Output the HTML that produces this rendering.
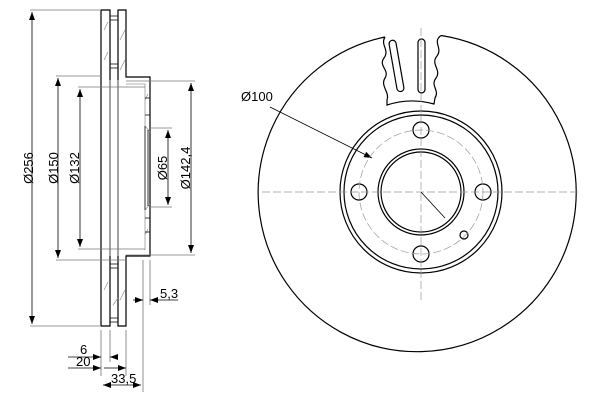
<!DOCTYPE html>
<html><head><style>html,body{margin:0;padding:0;background:#fff}svg{display:block}</style></head>
<body>
<svg width="600" height="400" viewBox="0 0 600 400" xmlns="http://www.w3.org/2000/svg" font-family="Liberation Sans, sans-serif" font-size="13">
<defs>
<marker id="a" markerWidth="8" markerHeight="6" refX="8" refY="3" orient="auto-start-reverse" markerUnits="userSpaceOnUse"><path d="M0,0 L8,3 L0,6 Z" fill="#000"/></marker>
</defs>
<g fill="none" stroke="#000" stroke-width="1.2">
<path d="M101,10 V326 M101,10 H110 V326 H101"/>
<path d="M118,10 H126 V77 H150 V256 H126 V326 H118 Z"/>
<path d="M110,16 H118 M110,20 H118 M110,64 H118 M110,68 H118 M110,264 H118 M110,268 H118 M110,318 H118 M110,322 H118" stroke-width="0.8"/>
</g>
<g fill="none" stroke="#999" stroke-width="0.8">
<path d="M104,30 L108,22 M104,60 L108,52 M120,40 L125,30 M120,70 L125,60 M104,290 L108,282 M120,300 L125,290 M113,305 L118,298 M145,100 L148,94 M145,235 L148,229"/>
<path d="M110,80 V256 M118,80 V256 M126,84 H145 V126 L150,132 M145,250 V210 L150,204"/>
<path d="M145,126 V210 M148,130 V206" stroke="#000"/>
<path d="M145,98 H150 M145,115 H150 M145,218 H150 M145,232 H150" stroke="#000"/>
</g>
<g stroke="#777" stroke-width="0.8" fill="none">
<path d="M30,10 H101 M30,326 H101 M56,76 H101 M56,260 H126 M78,87 H145 M78,249 H145 M150,128 H172 M150,207 H172 M126,81 H195 M126,255 H195"/>
<path d="M101,330 V376 M110,330 V362 M126,330 V376 M143,260 V392 M150,260 V305"/>
</g>
<g stroke="#000" stroke-width="0.8" fill="none">
<path d="M32,12 V324" marker-start="url(#a)" marker-end="url(#a)"/>
<path d="M58,78 V258" marker-start="url(#a)" marker-end="url(#a)"/>
<path d="M80,89 V247" marker-start="url(#a)" marker-end="url(#a)"/>
<path d="M168,130 V205" marker-start="url(#a)" marker-end="url(#a)"/>
<path d="M191,83 V253" marker-start="url(#a)" marker-end="url(#a)"/>
<path d="M133,300 H143" marker-end="url(#a)"/><path d="M178,300 H150" marker-end="url(#a)"/>
<path d="M68,357 H101" marker-end="url(#a)"/><path d="M118,357 H110" marker-end="url(#a)"/>
<path d="M68,368 H101" marker-end="url(#a)"/><path d="M104,368 H126" marker-end="url(#a)"/>
<path d="M103,385 H141" marker-start="url(#a)" marker-end="url(#a)"/>
<path d="M270,107 L372,158" marker-end="url(#a)"/>
</g>
<g fill="#000">
<text transform="translate(33,168) rotate(-90)" text-anchor="middle">Ø256</text>
<text transform="translate(58,168) rotate(-90)" text-anchor="middle">Ø150</text>
<text transform="translate(79,168) rotate(-90)" text-anchor="middle">Ø132</text>
<text transform="translate(167,168) rotate(-90)" text-anchor="middle">Ø65</text>
<text transform="translate(190,168) rotate(-90)" text-anchor="middle">Ø142,4</text>
<text x="160" y="298">5,3</text>
<text x="80" y="354">6</text>
<text x="76" y="366">20</text>
<text x="111" y="383">33,5</text>
<text x="241" y="101">Ø100</text>
</g>
<g fill="none" stroke="#000" stroke-width="1.2">
<path d="M385,37 A159,159 0 1 0 441,35.5"/>
<path d="M385,37 C380,45 390,50 384,58 C378,66 390,70 385,78 C380,86 390,92 387,100 L387,105 A81,81 0 0 1 434,104 L435,98 C440,90 430,86 436,78 C442,70 430,64 437,56 C443,48 432,42 441,35.5"/>
<circle cx="421" cy="192" r="81"/>
<circle cx="421" cy="192" r="77"/>
<circle cx="421" cy="192" r="43"/>
<circle cx="421" cy="192" r="40"/>
<circle cx="421" cy="130" r="8"/>
<circle cx="359" cy="192" r="8"/>
<circle cx="483" cy="192" r="8"/>
<circle cx="421" cy="254" r="8"/>
<circle cx="464" cy="235" r="4"/>
<rect x="393" y="40" width="7" height="52" rx="3.5" transform="rotate(-10 396 66)"/>
<rect x="418" y="39" width="7" height="54" rx="3.5"/>
</g>
<g fill="none" stroke="#999" stroke-width="0.7" stroke-dasharray="8,3">
<circle cx="421" cy="192" r="62"/>
<path d="M262,192 H580 M421,28 V300"/>
</g>
<path d="M421,192 L445,218" stroke="#000" stroke-width="0.8"/>
</svg>
</body></html>
